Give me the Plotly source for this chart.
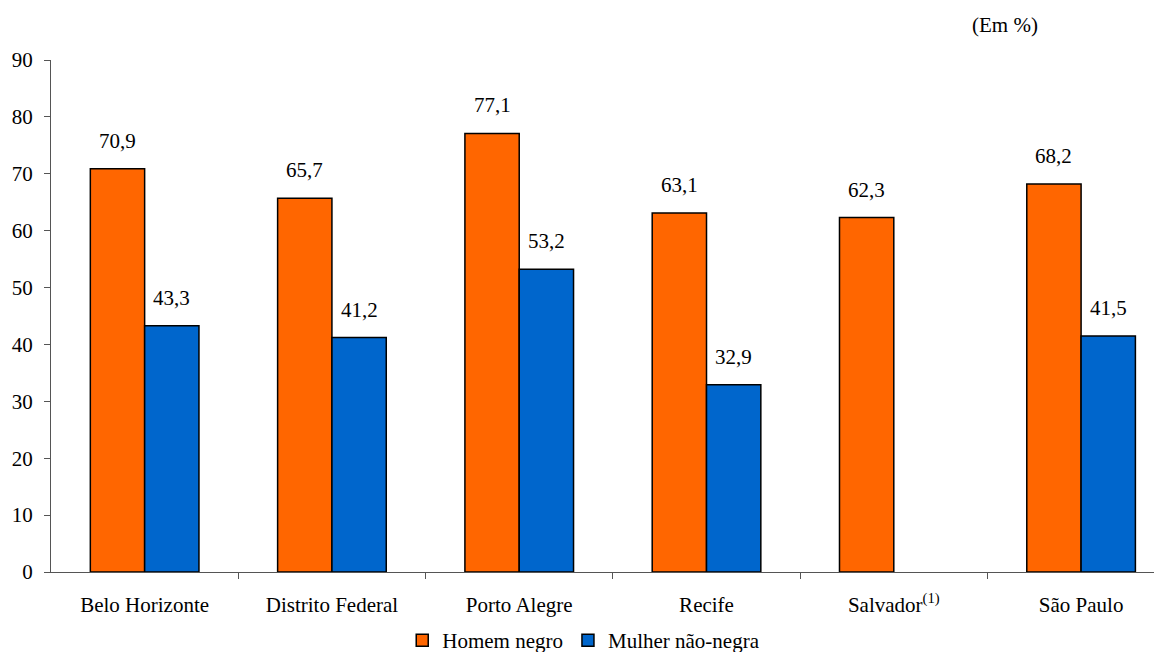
import plotly.graph_objects as go

categories = ["Belo Horizonte", "Distrito Federal", "Porto Alegre", "Recife",
              "Salvador<sup>(1)</sup>", "São Paulo"]
homem_negro = [70.9, 65.7, 77.1, 63.1, 62.3, 68.2]
mulher_nao_negra = [43.3, 41.2, 53.2, 32.9, None, 41.5]
series_names = ["Homem negro", "Mulher não-negra"]
y_ticks = [0, 10, 20, 30, 40, 50, 60, 70, 80, 90]

FONT = '"Liberation Serif", "Times New Roman", "DejaVu Serif", serif'
FS = 21
ORANGE = "#FF6600"
BLUE = "#0066CC"
AXIS = "#555555"
BARGAP = 0.42

fig = go.Figure()
idx = list(range(len(categories)))
for name, vals, col in [(series_names[0], homem_negro, ORANGE),
                        (series_names[1], mulher_nao_negra, BLUE)]:
    fig.add_trace(go.Bar(
        x=idx, y=vals, name=name,
        marker=dict(color=col, line=dict(color="black", width=1.5)),
    ))

half = (1 - BARGAP) / 4
def fmt(v):
    return f"{v:.1f}".replace(".", ",")

for i, v in enumerate(homem_negro):
    if v is not None:
        fig.add_annotation(x=i - half, y=v, text=fmt(v), showarrow=False,
                           yanchor="middle", xanchor="center", yshift=28,
                           font=dict(family=FONT, size=FS, color="black"))
for i, v in enumerate(mulher_nao_negra):
    if v is not None:
        fig.add_annotation(x=i + half, y=v, text=fmt(v), showarrow=False,
                           yanchor="middle", xanchor="center", yshift=28,
                           font=dict(family=FONT, size=FS, color="black"))

fig.add_annotation(xref="paper", yref="paper", x=1.0, y=1.0,
                   text="(Em %)", showarrow=False, xanchor="center",
                   yanchor="middle", xshift=-157, yshift=35,
                   font=dict(family=FONT, size=FS, color="black"))

fig.update_layout(
    width=1154, height=644,
    margin=dict(l=43, r=0, t=52, b=80, autoexpand=False),
    paper_bgcolor="white", plot_bgcolor="white",
    barmode="group", bargap=BARGAP, bargroupgap=0,
    font=dict(family=FONT, size=FS, color="black"),
    showlegend=True,
    legend=dict(orientation="h", x=0.4795, xanchor="center", y=-0.134,
                yanchor="middle", font=dict(family=FONT, size=FS),
                itemwidth=30, traceorder="normal"),
)
fig.update_xaxes(
    type="linear", range=[-0.5, 5.432], automargin=False,
    tickmode="array", tickvals=idx, ticktext=categories,
    showline=True, linecolor=AXIS, linewidth=1,
    ticks="", showgrid=False, zeroline=False, ticklabelstandoff=14,
    tickfont=dict(family=FONT, size=FS),
)
# boundary ticks between categories
fig.update_layout(xaxis2=dict(
    overlaying="x", matches="x", anchor="y", side="bottom", automargin=False,
    tickmode="array", tickvals=[i + 0.5 for i in idx[:-1]],
    ticktext=["" for _ in idx[:-1]], ticks="outside", ticklen=6,
    tickcolor=AXIS, showgrid=False, showline=False, zeroline=False,
))
fig.add_trace(go.Scatter(x=[], y=[], xaxis="x2", showlegend=False))
fig.update_yaxes(
    range=[0, 90], tickvals=y_ticks, showline=True, linecolor=AXIS,
    linewidth=1, ticks="outside", ticklen=6, tickcolor=AXIS, automargin=False,
    showgrid=False, zeroline=False, ticklabelstandoff=7,
    tickfont=dict(family=FONT, size=FS),
)

fig.write_html("out.html")
